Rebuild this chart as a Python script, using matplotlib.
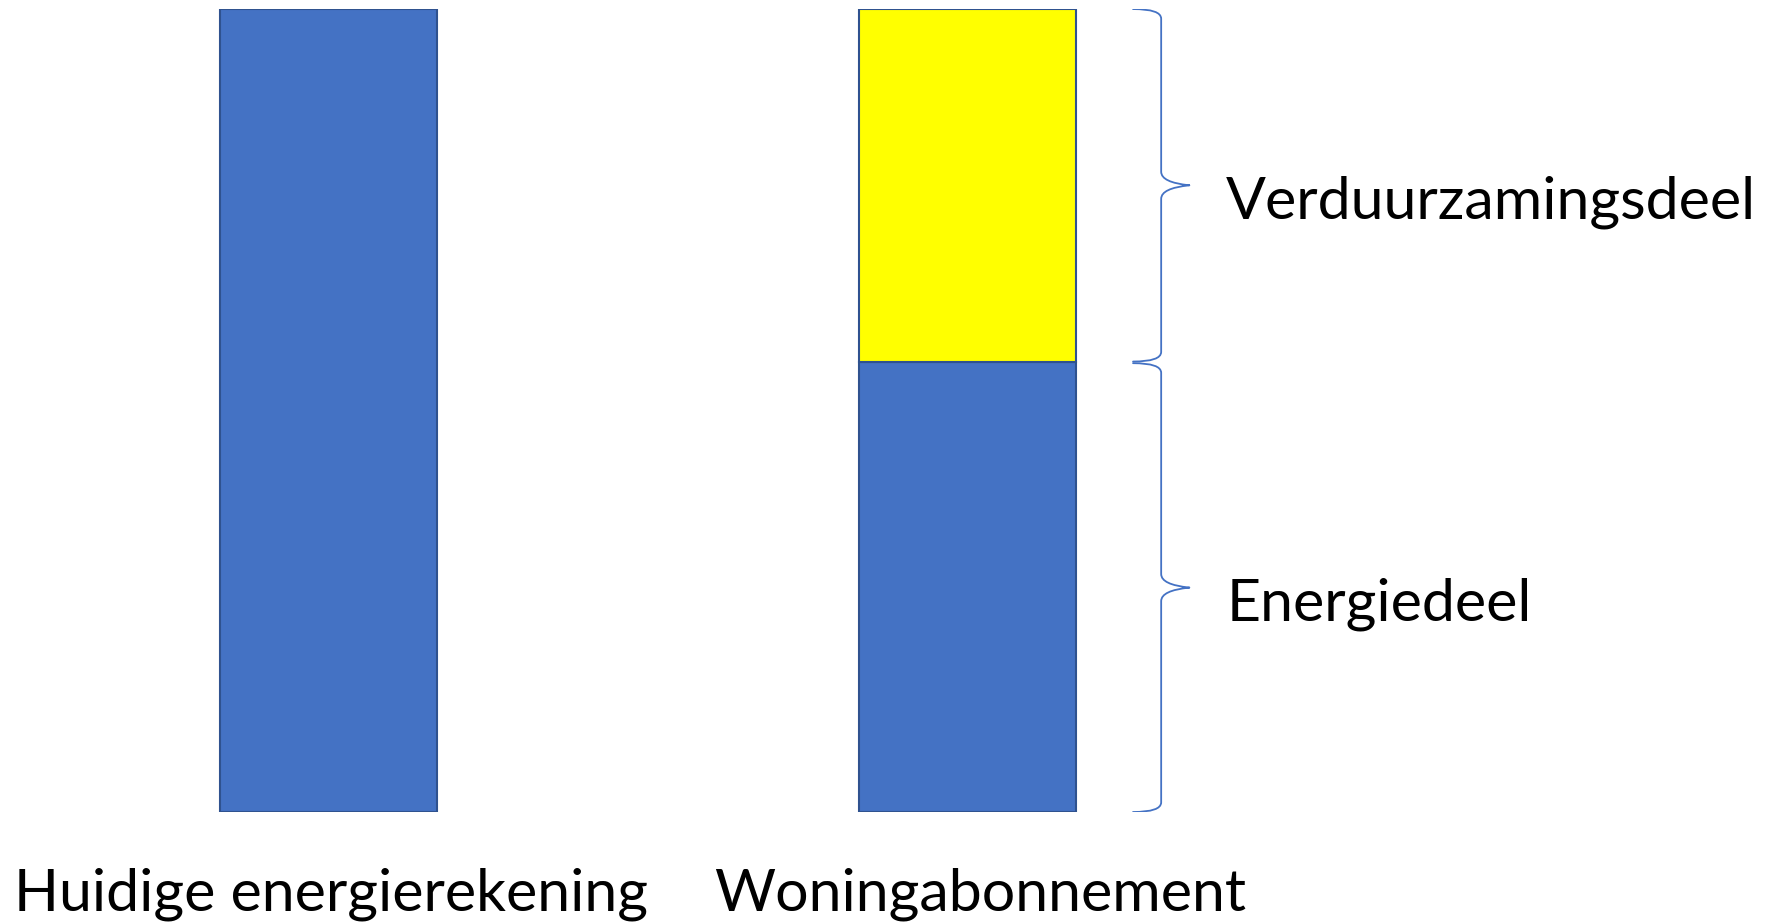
import numpy as np
import matplotlib
matplotlib.use('Agg')
import matplotlib.pyplot as plt
from matplotlib.path import Path
from matplotlib.patches import PathPatch

# gegevens (aandeel van de huidige energierekening, in %)
categorieen = ['Huidige energierekening', 'Woningabonnement']
energiedeel = [100, 56]
verduurzamingsdeel = [0, 44]
deel_labels = ['Energiedeel', 'Verduurzamingsdeel']

blauw = '#4472C4'
rand = '#2F528F'
geel = '#FFFF00'

plt.rcParams['font.family'] = ['Lato', 'DejaVu Sans']

fig = plt.figure(figsize=(17.67, 9.24), dpi=100)
ax = fig.add_axes([0, 0.1212, 1, 0.869])
x = np.arange(len(categorieen))
breedte = 0.34

ax.bar(x, energiedeel, breedte, color=blauw, edgecolor=rand, linewidth=1.5)
ax.bar(x, verduurzamingsdeel, breedte, bottom=energiedeel, color=geel,
       edgecolor=rand, linewidth=1.5)
# lege delen niet tekenen
for p in ax.patches:
    if p.get_height() == 0:
        p.set_visible(False)

ax.set_xlim(-0.514, 2.251)
ax.set_ylim(0, 100)
ax.axis('off')

# accolades naast de rechter balk
def accolade(ax, x0, y0, y1, b=0.088):
    xm = x0 + b / 2
    xt = x0 + b
    ym = (y0 + y1) / 2
    d = 1.2
    verts = [(x0, y0), (xm, y0), (xm, y0 + d), (xm, y0 + d * 1.4),
             (xm, ym - d * 1.4), (xm, ym - d * 0.3), (xt, ym), (xt, ym),
             (xt, ym), (xm, ym + d * 0.3), (xm, ym + d * 1.4),
             (xm, y1 - d * 1.4), (xm, y1 - d), (xm, y1), (x0, y1)]
    codes = [Path.MOVETO, Path.CURVE3, Path.CURVE3, Path.LINETO,
             Path.LINETO, Path.CURVE3, Path.CURVE3, Path.MOVETO,
             Path.MOVETO, Path.CURVE3, Path.CURVE3, Path.LINETO,
             Path.LINETO, Path.CURVE3, Path.CURVE3]
    ax.add_patch(PathPatch(Path(verts, codes), fill=False, edgecolor=blauw,
                           linewidth=1.3, capstyle='round'))
    return xt, ym

rechts = x[1] + breedte / 2 + 0.089
grenzen = [(0, energiedeel[1] - 0.1),
           (energiedeel[1] + 0.1, energiedeel[1] + verduurzamingsdeel[1])]
for (y0, y1), tekst in zip(grenzen, deel_labels):
    xt, ym = accolade(ax, rechts, y0, y1)
    ax.annotate(tekst, (xt, ym), xytext=(37, -33), textcoords='offset pixels',
                ha='left', va='baseline', fontsize=42.5, color='black')

verschuiving = [3, 13]  # labels staan niet precies onder het midden
for i, naam in enumerate(categorieen):
    ax.annotate(naam, (x[i], 0), xycoords=('data', 'axes fraction'),
                xytext=(verschuiving[i], -98), textcoords='offset pixels',
                ha='center', va='baseline', fontsize=42.5, color='black',
                annotation_clip=False)

fig.savefig('out.png', dpi=100, facecolor='white')
